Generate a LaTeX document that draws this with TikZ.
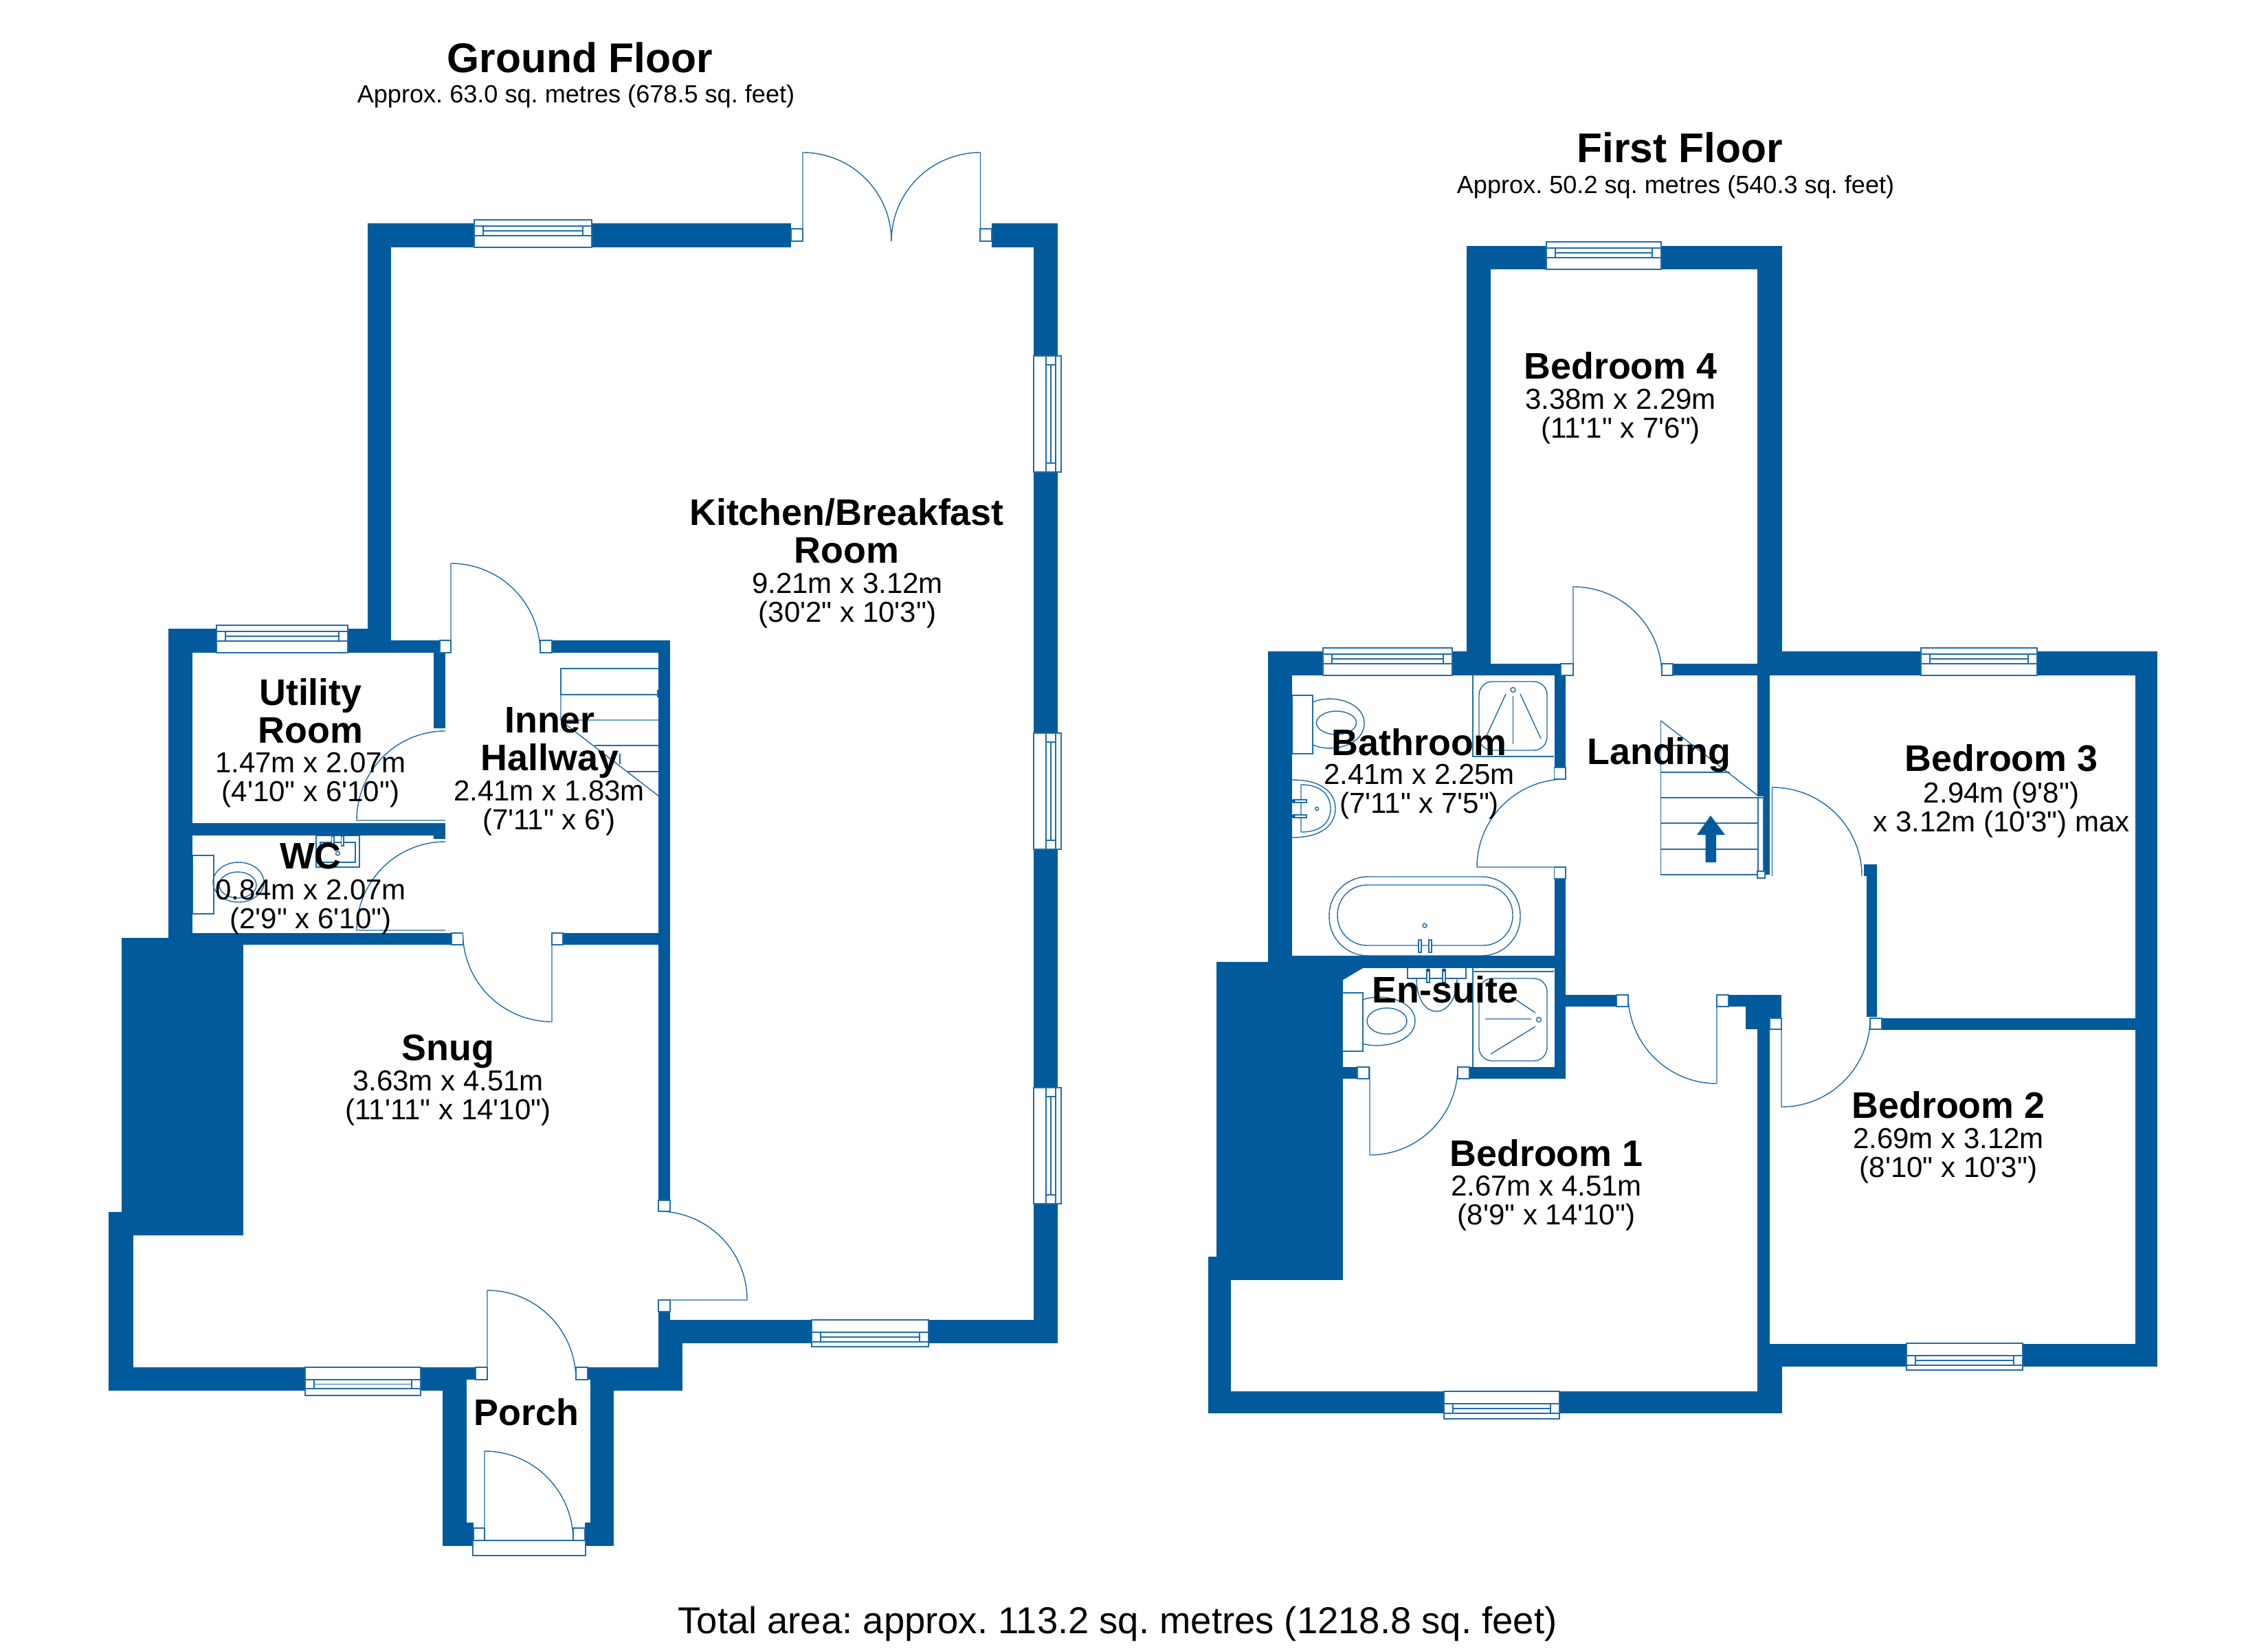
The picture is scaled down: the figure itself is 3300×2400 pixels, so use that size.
\documentclass[tikz,border=0pt]{standalone}
\usepackage{fontspec}
\setmainfont[Ligatures=TeXOff]{Liberation Sans}
\usetikzlibrary{calc}
\definecolor{wallblue}{HTML}{005A9C}
\definecolor{lineblue}{HTML}{1F6DA8}
\tikzset{
  wallfill/.style={fill=wallblue,draw=none},
  ln/.style={draw=lineblue,line width=0.4pt},
  frm/.style={draw=lineblue,line width=0.4pt,fill=white},
  rname/.style={font=\frenchspacing\fontsize{15.3}{15.6}\selectfont\bfseries,align=center,text=black,inner sep=0pt},
  rdim/.style={font=\frenchspacing\fontsize{11.95}{12}\selectfont,align=center,text=black,inner sep=0pt},
  ttl/.style={font=\frenchspacing\fontsize{17.2}{18}\selectfont\bfseries,text=black,inner sep=0pt},
  subttl/.style={font=\frenchspacing\fontsize{10.27}{11}\selectfont,text=black,inner sep=0pt},
  tot/.style={font=\frenchspacing\fontsize{15.48}{16}\selectfont,text=black,inner sep=0pt}
}
\newcommand\W[4]{\fill[wallfill] (#1,#2) rectangle (#3,#4);}
\newcommand\F[4]{\draw[frm] (#1,#2) rectangle (#3,#4);}
% door: centre (hinge), leaf end, arc end
\newcommand\Door[6]{\draw[ln] (#1,#2) -- (#3,#4) .. controls ($(#3,#4)!0.5523!(#3+#5-#1,#4+#6-#2)$) and ($(#5,#6)!0.5523!(#3+#5-#1,#4+#6-#2)$) .. (#5,#6);}
% horizontal window x1 x2 y1 y2 s1 s2
\newcommand\WinH[6]{\draw[frm] (#1,#3) rectangle (#2,#4);
  \draw[ln] (#1,#5) -- (#2,#5) (#1,#6) -- (#2,#6) (#1+13,#5) -- (#1+13,#6) (#2-13,#5) -- (#2-13,#6) (#1+13,{(#5+#6)/2}) -- (#2-13,{(#5+#6)/2});}
\newcommand\WinV[6]{\draw[frm] (#3,#1) rectangle (#4,#2);
  \draw[ln] (#5,#1) -- (#5,#2) (#6,#1) -- (#6,#2) (#5,#1+13) -- (#6,#1+13) (#5,#2-13) -- (#6,#2-13) ({(#5+#6)/2},#1+13) -- ({(#5+#6)/2},#2-13);}
\begin{document}
\begin{tikzpicture}[x=0.01cm,y=-0.01cm]
\useasboundingbox (0,0) rectangle (3300,2400);
\fill[white] (0,0) rectangle (3300,2400);

% ---------- Ground floor fittings under walls
\Door{1168}{351}{1168}{222}{1297}{351}
\Door{1426.5}{351}{1426.5}{222}{1297}{351}
\Door{656}{950}{656}{820}{786}{950}
\Door{648}{1194}{519}{1194}{648}{1064}
\Door{648}{1354}{519}{1354}{648}{1225}
\Door{803}{1358}{803}{1487}{673.5}{1358}
\Door{958}{1892}{1087}{1892}{958}{1763}
\Door{709}{2008}{709}{1878}{838}{2008}
\Door{705}{2242}{705}{2112}{834}{2242}

% hallway stairs
\draw[ln] (816,973) rectangle (974,1011);
\draw[ln] (816,1011) -- (816,1048) -- (958,1048) (824,1055) -- (959,1159);
\draw[ln] (865,1085) -- (958,1085) (913,1123) -- (958,1123) (902,1097) -- (902,1112);
\draw[frm] (959.4,1014) rectangle (966,1159);
\draw[frm] (957,1005) rectangle (968,1014);

% WC fittings
\draw[ln] (280,1245) rectangle (311,1330);
\draw[ln] (347,1284) ellipse [x radius=37,y radius=29];
\draw[ln] (346,1288) ellipse [x radius=27,y radius=19];
\draw[ln] (460,1216) rectangle (523,1262);
\draw[ln] (466,1226) rectangle (517,1255);
\draw[frm] (482.5,1217) rectangle (486,1231);
\draw[frm] (496.5,1217) rectangle (500,1231);
\draw[ln] (491.5,1242) circle [radius=3];

% ---------- Ground floor walls
\W{537}{325}{1151}{360}
\W{1443}{325}{1539}{360}
\W{1504}{325}{1539}{1955}
\W{975}{1921}{1539}{1955}
\W{535}{325}{569}{950}
\W{245}{915}{537}{950}
\W{569}{932}{656}{950}
\W{786}{932}{975}{950}
\W{245}{915}{280}{1365}
\W{631}{950}{648}{1060}
\W{280}{1198}{648}{1216}
\W{631}{1216}{648}{1221}
\W{245}{1358}{657}{1375}
\W{803}{1358}{975}{1375}
\W{958}{932}{975}{1747}
\W{177}{1365}{354}{1798}
\W{158}{1764}{194}{2024}
\W{158}{1990}{644}{2024}
\W{644}{1990}{692}{2008}
\W{644}{1990}{679}{2250}
\W{679}{2216}{689}{2250}
\W{838}{1990}{859}{2008}
\W{859}{1990}{893}{2250}
\W{851}{2216}{859}{2250}
\W{859}{1990}{993}{2024}
\W{958}{1921}{993}{2024}
\W{958}{1909}{975}{1921}

% frames
\F{1151}{333}{1168}{351}
\F{1426}{333}{1443}{351}
\F{640}{932}{656}{950}
\F{786}{932}{803}{950}
\F{657}{1358}{673.5}{1375}
\F{803}{1358}{819}{1375}
\F{958}{1747}{975}{1763}
\F{958}{1892}{975}{1909}
\F{692}{1990}{709}{2008}
\F{838}{1990}{855}{2008}
\F{689}{2224}{705}{2242}
\F{834}{2224}{851}{2242}
\F{688}{2242}{852}{2264}

% windows
\WinH{690}{861}{320}{360}{329}{343}
\WinH{315}{506}{910}{950}{919}{933}
\WinH{444}{612}{1990}{2031}{2008}{2021}
\WinH{1181}{1351}{1921}{1960}{1939}{1953}
\WinV{518}{687}{1504}{1544}{1522}{1536}
\WinV{1067}{1236}{1504}{1544}{1522}{1536}
\WinV{1583}{1752}{1504}{1544}{1522}{1536}

% ---------- First floor fittings under walls
\Door{2289}{983}{2289}{854}{2418}{983}
\Door{2278}{1262}{2149}{1262}{2278}{1134}
\Door{2578.5}{1275}{2578.5}{1146}{2709}{1275}
\Door{2498}{1448}{2498}{1577}{2369}{1448}
\Door{1993}{1553}{1993}{1681}{2121}{1553}
\Door{2592}{1482}{2592}{1611}{2721}{1482}

% landing stairs
\draw[ln] (2416.5,1049) -- (2416.5,1273) -- (2558,1273);
\draw[ln] (2416.5,1049) -- (2559,1159);
\draw[ln] (2416.5,1085) -- (2466,1085) (2416.5,1124) -- (2517,1124);
\draw[ln] (2416.5,1161) -- (2558,1161) (2416.5,1198) -- (2558,1198) (2416.5,1236) -- (2558,1236);
\fill[wallblue] (2489,1187) -- (2510,1215) -- (2497,1215) -- (2497,1255) -- (2481.5,1255) -- (2481.5,1215) -- (2469,1215) -- cycle;

% bathroom fittings
\draw[ln] (1880,1012) rectangle (1910,1097);
\draw[ln] (1910,1022) .. controls (1935,1010) and (1985,1020) .. (1985,1053) .. controls (1985,1086) and (1935,1096) .. (1910,1084);
\draw[ln] (1944.5,1052) ellipse [x radius=29,y radius=17];
\draw[ln] (2143,983) -- (2143,1101) -- (2261,1101);
\draw[ln,rounded corners=5.5pt] (2152,992) rectangle (2251,1092);
\draw[ln] (2201.5,1004) circle [radius=3.5];
\draw[ln] (2201.5,1013) -- (2201.5,1083) (2191,1010) -- (2161,1075) (2212,1010) -- (2242,1075);
\draw[ln] (1880,1135) .. controls (1925,1135) and (1943,1155) .. (1943,1177) .. controls (1943,1199) and (1925,1219) .. (1880,1219);
\draw[ln] (1893,1142) .. controls (1925,1142) and (1936,1160) .. (1936,1177) .. controls (1936,1194) and (1925,1211) .. (1893,1211) -- cycle;
\draw[frm] (1882,1164) rectangle (1901,1168);
\draw[frm] (1882,1186) rectangle (1901,1190);
\fill[wallblue] (1882,1166) circle [radius=2.5] (1882,1188) circle [radius=2.5];
\draw[ln] (1916,1177) circle [radius=2.5];
\draw[ln,rounded corners=16pt] (1934,1276) rectangle (2212,1391);
\draw[ln,rounded corners=12.3pt] (1946,1288) rectangle (2201,1376);
\draw[ln] (2073,1347) circle [radius=3];
\draw[frm] (2064,1368) rectangle (2068,1386);
\draw[frm] (2079,1368) rectangle (2083,1386);

% ---------- First floor walls
\W{2134}{358}{2593}{392}
\W{2134}{358}{2169}{983}
\W{2557}{358}{2592.5}{983}
\W{2557}{948}{3139}{983}
\W{3107}{948}{3139}{1989}
\W{1845}{948}{2135}{983}
\W{1845}{948}{1880}{1409}
\W{2169}{966}{2271}{983}
\W{2434}{966}{2560}{983}
\W{2261.5}{983}{2278}{1117}
\W{2261.5}{1279}{2278}{1570}
\W{1845}{1391}{2278}{1409}
\W{1770}{1400}{1953.5}{1863}
\fill[wallfill] (1953,1409) -- (1983,1409) -- (1953.5,1426.5) -- cycle;
\W{2557}{983}{2575}{1159}
\W{2566}{1159}{2575}{1273}
\W{2712}{1258}{2731}{1275}
\W{2716}{1275}{2731}{1480}
\W{2738}{1482}{3139}{1499}
\W{1953.5}{1553}{1975}{1570}
\W{2138}{1553}{2278}{1570}
\W{2278}{1448}{2352}{1465}
\W{2515}{1448}{2592}{1465}
\W{2540}{1465}{2592}{1482}
\W{2540}{1482}{2575}{1498}
\W{2557}{1498}{2575}{2057}
\W{2557}{1956}{3139}{1989}
\W{2557}{1989}{2593}{2057}
\W{1758}{2025}{2593}{2057}
\W{1758}{1829}{1791}{2057}
\W{1770}{1829}{1791}{1863}

% ensuite fittings
\draw[ln] (1953.5,1445) rectangle (1983,1530);
\draw[ln] (1983,1455) .. controls (2010,1445) and (2059,1455) .. (2059,1486) .. controls (2059,1517) and (2010,1527) .. (1983,1519);
\draw[ln] (2018,1486) ellipse [x radius=29,y radius=19];
\draw[ln] (2048,1409) -- (2048,1424) -- (2133,1424) -- (2133,1409);
\draw[ln] (2061,1424) .. controls (2061,1455) and (2075,1472) .. (2090,1472) .. controls (2105,1472) and (2120,1455) .. (2120,1424);
\draw[frm] (2076,1411) rectangle (2080,1430);
\draw[frm] (2099,1411) rectangle (2103,1430);
\fill[wallblue] (2078,1412) circle [radius=2.5] (2101,1412) circle [radius=2.5];
\draw[ln] (2143,1409) -- (2143,1553) (2143,1414) -- (2261,1414);
\draw[ln,rounded corners=5.5pt] (2152,1424) rectangle (2251,1544);
\draw[ln] (2239,1484) circle [radius=3.5];
\draw[ln] (2161,1483) -- (2228,1483) (2204,1454) -- (2234,1474) (2169,1534) -- (2234,1494);

% frames
\F{2271}{966}{2289}{983}
\F{2418}{966}{2434}{983}
\F{2261.5}{1117}{2278}{1134}
\F{2261.5}{1262}{2278}{1279}
\F{2352}{1448}{2369}{1465}
\F{2498}{1448}{2515}{1465}
\F{2575}{1482}{2592}{1498}
\F{2721}{1482}{2738}{1498}
\F{1975}{1553}{1992}{1570}
\F{2121}{1553}{2138}{1570}
\draw[frm] (2558,1161) rectangle (2566,1271);
\F{2557}{1268}{2568}{1278}

% windows
\WinH{2250}{2417}{352}{392}{361}{375}
\WinH{1925}{2113}{943}{983}{952}{966}
\WinH{2795}{2964}{943}{983}{952}{966}
\WinH{2101}{2269}{2025}{2065}{2043}{2057}
\WinH{2774}{2943}{1955}{1994}{1973}{1987}

% ---------- Texts
\node[ttl] (gf) at (844,84) {Ground Floor};
\node[subttl] (gfs) at (838,140) {Approx. 63.0 sq. metres (678.5 sq. feet)};
\node[ttl] (ff) at (2444,215) {First Floor};
\node[subttl] (ffs) at (2438,272) {Approx. 50.2 sq. metres (540.3 sq. feet)};
\node[tot] (total) at (1626,2363) {Total area: approx. 113.2 sq. metres (1218.8 sq. feet)};

\node[rname] (kn) at (1232,773) {Kitchen/Breakfast\\Room};
\node[rdim] (kd) at (1233,874) {9.21m x 3.12m\\(30'2" x 10'3")};
\node[rname] (un) at (452,1035) {Utility\\Room};
\node[rdim] (ud) at (452,1135) {1.47m x 2.07m\\(4'10" x 6'10")};
\node[rname] (hn) at (800,1081) {Inner\\Hallway};
\node[rdim] (hd) at (799,1176) {2.41m x 1.83m\\(7'11" x 6')};
\node[rname] (wn) at (452,1246) {WC};
\node[rdim] (wd) at (452,1320) {0.84m x 2.07m\\(2'9" x 6'10")};
\node[rname] (sn) at (652,1530) {Snug};
\node[rdim] (sd) at (652,1598) {3.63m x 4.51m\\(11'11" x 14'10")};
\node[rname] (pn) at (766,2055) {Porch};

\node[rname] (b4n) at (2358,532) {Bedroom 4};
\node[rdim] (b4d) at (2358,606) {3.38m x 2.29m\\(11'1" x 7'6")};
\node[rname] (ban) at (2065,1080) {Bathroom};
\node[rdim] (bad) at (2065,1152) {2.41m x 2.25m\\(7'11" x 7'5")};
\node[rname] (ln1) at (2414,1099) {Landing};
\node[rname] (b3n) at (2912,1103) {Bedroom 3};
\node[rdim] (b3d) at (2912,1179) {2.94m (9'8")\\x 3.12m (10'3") max};
\node[rname] (en) at (2103,1440) {En-suite};
\node[rname] (b1n) at (2250,1678) {Bedroom 1};
\node[rdim] (b1d) at (2250,1751) {2.67m x 4.51m\\(8'9" x 14'10")};
\node[rname] (b2n) at (2835,1608) {Bedroom 2};
\node[rdim] (b2d) at (2835,1682) {2.69m x 3.12m\\(8'10" x 10'3")};
\end{tikzpicture}
\end{document}
